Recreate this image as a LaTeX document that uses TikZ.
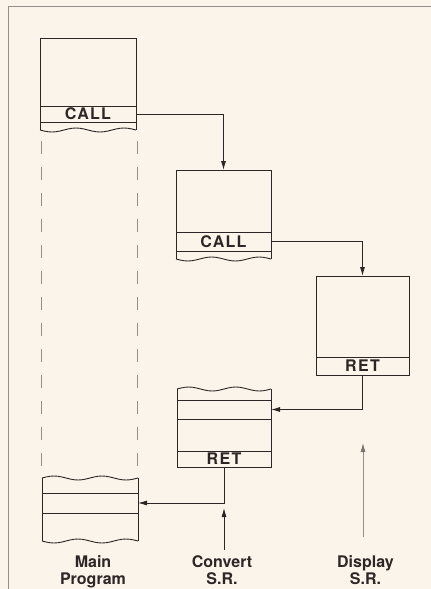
\documentclass[tikz,border=0pt]{standalone}
\usepackage{fontspec}
\setmainfont{TeX Gyre Heros}
\newfontfamily\bandfont[LetterSpace=8]{TeX Gyre Heros}
\usetikzlibrary{arrows.meta}
\definecolor{bg}{RGB}{250,244,234}
\definecolor{ink}{RGB}{45,38,38}
\definecolor{faint}{RGB}{150,140,140}
\definecolor{midgray}{RGB}{125,115,115}
\newcommand\wavyln[4]{\draw[draw=ink, line width=0.9pt] plot[smooth, domain=0:1, samples=25] ({#1+\x*(#2-#1)},{#3+#4*sin(\x*720)});}
\begin{document}
\begin{tikzpicture}[x=1pt,y=-1pt,
  inkline/.style={draw=ink, line width=0.9pt},
  sect/.style={draw=ink, line width=0.9pt, rectangle, inner sep=0pt, outer sep=0pt},
  band/.style={sect, font=\bandfont\bfseries\fontsize{16}{16}\selectfont, text=ink},
  conn/.style={draw=ink, line width=0.8pt, -{Latex[length=9pt,width=5pt]}},
  lbl/.style={font=\bfseries\fontsize{16}{17}\selectfont, align=center, text=ink, inner sep=0pt},
  dashln/.style={draw=faint, line width=0.8pt, dash pattern=on 13pt off 13pt},
]
\fill[bg] (0,0) rectangle (431,589);
\useasboundingbox (0,0) rectangle (431,589);
\draw[faint, line width=0.8pt] (8,589) -- (8,6.5) -- (431,6.5);

% Main program (top part)
\node[sect, minimum width=96pt, minimum height=68pt] (mainA) at (88,72) {};
\node[band, minimum width=96pt, minimum height=16pt] (callA) at (88,114) {CALL};
\draw[inkline] (callA.south west) -- (40,130);
\draw[inkline] (callA.south east) -- (136,130);
\wavyln{40}{136}{130}{2}

% dashed continuation
\draw[dashln] (41,141) -- (41,471);
\draw[dashln] (137.5,141) -- (137.5,471);

% Convert S.R. (top part)
\node[sect, minimum width=95pt, minimum height=62pt] (convA) at (223.5,201) {};
\node[band, minimum width=95pt, minimum height=19pt] (callB) at (223.5,241.5) {CALL};
\draw[inkline] (callB.south west) -- (176,259);
\draw[inkline] (callB.south east) -- (271,259);
\wavyln{176}{271}{259}{2}

% Display S.R.
\node[sect, minimum width=93pt, minimum height=81pt] (dispA) at (362.5,316.5) {};
\node[band, minimum width=93pt, minimum height=18pt] (retC) at (362.5,366) {RET};

% Convert S.R. (return part)
\node[sect, minimum width=94pt, minimum height=19pt] (convMid) at (224,409.5) {};
\node[sect, minimum width=94pt, minimum height=32pt] (convLow) at (224,435) {};
\node[band, minimum width=94pt, minimum height=16pt] (retD) at (224,459) {RET};
\draw[inkline] (convMid.north west) -- (177,389);
\draw[inkline] (convMid.north east) -- (271,389);
\wavyln{177}{271}{389}{-2}

% Main program (return part)
\node[sect, minimum width=96pt, minimum height=20pt] (mainMid) at (90,503) {};
\draw[inkline] (mainMid.north west) -- (42,478);
\draw[inkline] (mainMid.north east) -- (138,478);
\wavyln{42}{138}{478}{-2}
\draw[inkline] (mainMid.south west) -- (42,541);
\draw[inkline] (mainMid.south east) -- (138,541);
\wavyln{42}{138}{541}{2}

% connectors
\draw[conn] (callA.east) -| (convA.north);
\draw[conn] (callB.east) -| (dispA.north);
\draw[conn] (retC.south) |- (convMid.east);
\draw[conn] (retD.south) |- (mainMid.east);

% labels
\node[lbl, anchor=north] (mainLbl) at (93,555) {Main\\Program};
\node[lbl, anchor=north] (convLbl) at (222,555) {Convert\\S.R.};
\node[lbl, anchor=north] (dispLbl) at (365.5,555) {Display\\S.R.};

\coordinate (convTail) at (224,550);
\coordinate (convTip) at (224,508);
\draw[conn] (convTail) -- (convTip);
\coordinate (dispTail) at (363,537);
\coordinate (dispTip) at (363,443);
\draw[draw=faint, line width=0.8pt, -{Latex[length=9pt,width=5pt,color=midgray]}] (dispTail) -- (dispTip);
\end{tikzpicture}
\end{document}
